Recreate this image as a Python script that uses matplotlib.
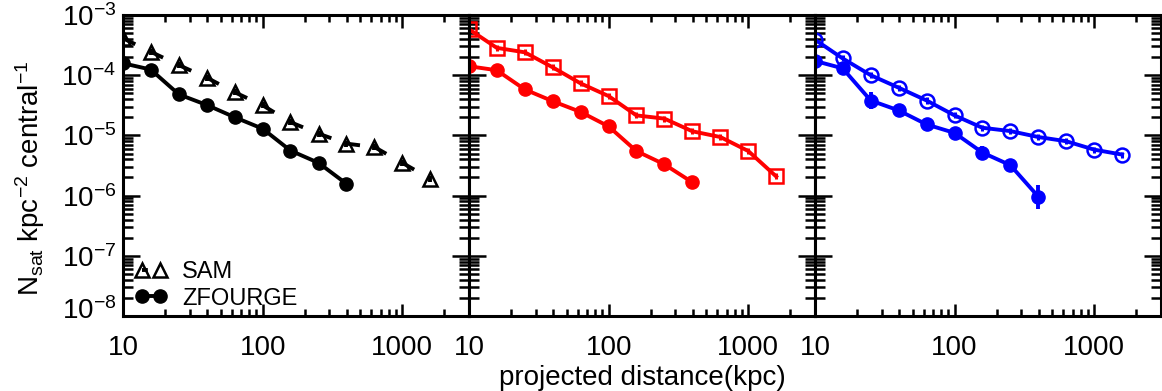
import matplotlib
matplotlib.use('Agg')
from matplotlib import pyplot as plt
from matplotlib.lines import Line2D
from matplotlib.ticker import FixedLocator, LogLocator, NullFormatter
import matplotlib.transforms as mtrans
import numpy as np

plt.rcParams['font.family'] = 'Liberation Sans'
plt.rcParams['mathtext.fontset'] = 'custom'
plt.rcParams['mathtext.rm'] = 'Liberation Sans'
plt.rcParams['mathtext.it'] = 'Liberation Sans:italic'

# projected distance bins (kpc)
r_all = [10, 15.8, 25.1, 39.8, 63.1, 100, 158, 251, 398, 631, 1000, 1585]
r_obs = r_all[:9]

# panel 1 (all)
sam_1 = [4.1e-4, 2.45e-4, 1.47e-4, 9.1e-5, 5.2e-5, 3.16e-5, 1.66e-5, 1.07e-5, 7.3e-6, 6.4e-6, 3.5e-6, 1.9e-6]
zf_1 = [1.58e-4, 1.24e-4, 4.8e-5, 3.2e-5, 2.0e-5, 1.29e-5, 5.6e-6, 3.5e-6, 1.57e-6]
# panel 2 (red)
sam_2 = [5.8e-4, 2.85e-4, 2.4e-4, 1.35e-4, 7.3e-5, 4.5e-5, 2.15e-5, 1.9e-5, 1.17e-5, 9.4e-6, 5.5e-6, 2.08e-6]
zf_2 = [1.41e-4, 1.21e-4, 5.8e-5, 3.7e-5, 2.45e-5, 1.41e-5, 5.5e-6, 3.3e-6, 1.66e-6]
# panel 3 (blue)
sam_3 = [3.9e-4, 1.9e-4, 1.0e-4, 6.2e-5, 3.8e-5, 2.15e-5, 1.34e-5, 1.18e-5, 9.4e-6, 8.0e-6, 5.8e-6, 4.8e-6]
zf_3 = [1.73e-4, 1.3e-4, 3.8e-5, 2.6e-5, 1.52e-5, 1.1e-5, 5.2e-6, 3.2e-6, 9.6e-7]

# errors in dex
sam_err = [0.05] * 12
zf_err_2 = [0.08, 0.1, 0.1, 0.08, 0.08, 0.08, 0.1, 0.1, 0.1]
zf_err_3 = [0.08, 0.1, 0.14, 0.1, 0.1, 0.08, 0.1, 0.1, 0.2]

xticks = [10, 100, 1000]
xtick_labels = ['10', '100', '1000']
yticks = [1e-8, 1e-7, 1e-6, 1e-5, 1e-4, 1e-3]

LW = 2.8


def errs(y, d):
    y = np.array(y)
    d = np.array(d)
    return [y * (1 - 10 ** -d), y * (10 ** d - 1)]


def dashed(ax, x, y, color):
    # IDL-like dash restarting at every vertex
    for i in range(len(x) - 1):
        ax.plot(x[i:i + 2], y[i:i + 2], color=color, lw=LW,
                dashes=(3.5, 30), dash_capstyle='butt')


fig, axes = plt.subplots(1, 3, figsize=(11.62, 3.91), dpi=100, sharey=True)
plt.subplots_adjust(left=0.1059, right=0.999, top=0.9616, bottom=0.1918, wspace=0)

# panel 1
ax = axes[0]
dashed(ax, r_all, sam_1, 'k')
ax.errorbar(r_all, sam_1, yerr=errs(sam_1, sam_err), fmt='none', ecolor='k', elinewidth=LW)
ax.plot(r_all, sam_1, ls='none', marker='^', ms=10, mfc='none', mec='k', mew=1.8)
ax.plot(r_obs, zf_1, color='k', lw=LW, marker='o', ms=9.5)

# panel 2
ax = axes[1]
ax.errorbar(r_all, sam_2, yerr=errs(sam_2, sam_err), color='r', lw=LW, elinewidth=2.2,
            marker='s', ms=10, mfc='none', mec='r', mew=1.8)
ax.errorbar(r_obs, zf_2, yerr=errs(zf_2, zf_err_2), color='r', lw=LW, elinewidth=LW,
            marker='o', ms=9.5)

# panel 3
ax = axes[2]
ax.errorbar(r_all, sam_3, yerr=errs(sam_3, sam_err), color='b', lw=LW, elinewidth=2.2,
            marker='o', ms=10, mfc='none', mec='b', mew=1.8)
ax.errorbar(r_obs, zf_3, yerr=errs(zf_3, zf_err_3), color='b', lw=LW, elinewidth=LW,
            marker='o', ms=9.5)

for ax in axes:
    ax.set_xscale('log')
    ax.set_yscale('log')
    ax.set_xlim(10, 3000)
    ax.set_ylim(1e-8, 1e-3)
    ax.xaxis.set_major_locator(FixedLocator(xticks))
    ax.set_xticklabels(xtick_labels)
    ax.xaxis.set_minor_locator(LogLocator(base=10, subs=np.arange(2, 10)))
    ax.xaxis.set_minor_formatter(NullFormatter())
    ax.yaxis.set_major_locator(FixedLocator(yticks))
    ax.yaxis.set_minor_locator(LogLocator(base=10, subs=np.arange(2, 10)))
    ax.yaxis.set_minor_formatter(NullFormatter())
    ax.tick_params(which='both', direction='in', top=True, right=True, width=1.8)
    ax.tick_params(axis='x', which='major', length=9, labelsize=20, pad=14)
    ax.tick_params(axis='x', which='minor', length=5)
    ax.tick_params(axis='y', which='major', length=12)
    ax.tick_params(axis='y', which='minor', length=7)
    for s in ax.spines.values():
        s.set_linewidth(2.2)

axes[0].tick_params(axis='y', labelsize=20, pad=5)

# lowest y label sits a little above the axis corner
low = axes[0].yaxis.get_major_ticks()[0].label1
low.set_transform(low.get_transform() + mtrans.ScaledTranslation(0, 0.08, fig.dpi_scale_trans))

legend_handles = [
    Line2D([0], [0], color='k', lw=LW, dashes=(1.5, 30), marker='^', ms=10, mfc='none', mew=1.8),
    Line2D([0], [0], color='k', lw=LW, marker='o', ms=9.5),
]
axes[0].legend(legend_handles, ['SAM', 'ZFOURGE'], loc='lower left', frameon=False,
               fontsize=17, handlelength=1.36, numpoints=2, handletextpad=0.64,
               labelspacing=0.2, borderaxespad=0.0, bbox_to_anchor=(0.0075, -0.01))

fig.text(0.553, 0.033, 'projected distance(kpc)', ha='center', va='center', fontsize=20)
fig.text(0.026, 0.545, r'N$_{\rm sat}$ kpc$^{-2}$ central$^{-1}$', rotation=90,
         ha='center', va='center', fontsize=20)

plt.savefig('out.png', dpi=100)
